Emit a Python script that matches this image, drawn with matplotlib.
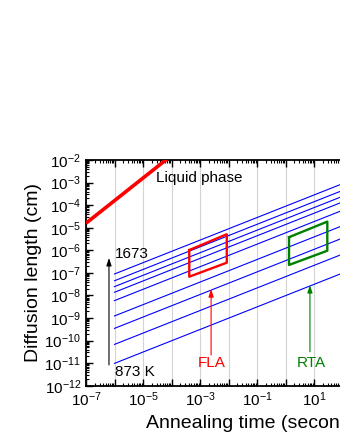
import numpy as np
import matplotlib
matplotlib.use("Agg")
import matplotlib.pyplot as plt
from matplotlib.ticker import LogLocator, FuncFormatter, NullFormatter

plt.rcParams['font.family'] = ['Liberation Sans', 'DejaVu Sans']
plt.rcParams['mathtext.fontset'] = 'custom'
plt.rcParams['mathtext.rm'] = 'Liberation Sans'
plt.rcParams['mathtext.it'] = 'Liberation Sans:italic'
plt.rcParams['mathtext.bf'] = 'Liberation Sans:bold'

# ---- data ----
# isotherm lines: log10 diffusion length at t=1e-6 s and t=1e2 s, 873 K ... 1673 K
iso_t = [1e-6, 1e2]
iso_log_start = [-11.01, -10.17, -9.46, -8.91, -8.23, -7.86, -7.61, -7.35, -7.05]
iso_log_end = [-7.01, -6.17, -5.46, -4.91, -4.23, -3.86, -3.61, -3.35, -3.05]

# liquid phase line
liq_t = [1e-7, 1e-3]
liq_log = [-4.80, -0.80]

# FLA window (parallelogram)
fla_t = [4.2e-4, 8.7e-3, 8.7e-3, 4.2e-4, 4.2e-4]
fla_log = [-5.99, -5.29, -6.55, -7.17, -5.99]

# RTA window
rta_t = [1.33, 29.3, 29.3, 1.33, 1.33]
rta_log = [-5.42, -4.73, -6.02, -6.65, -5.42]

x_range = [1e-7, 1e5]
y_range = [1e-12, 1e-2]

fig = plt.figure(figsize=(3.4, 4.4), dpi=100)
ax = fig.add_axes([86/340, 1-385.7/440, 342/340, 225.7/440])
ax.set_xscale('log')
ax.set_yscale('log')
ax.set_xlim(*x_range)
ax.set_ylim(*y_range)

# grid
for e in range(-7, 6):
    ax.axvline(10.0**e, color='#d4d4d4', lw=0.8, zorder=0)

for a, b in zip(iso_log_start, iso_log_end):
    ax.plot(iso_t, [10**a, 10**b], color='#0000ff', lw=0.8, zorder=2)

ax.plot(liq_t, [10**v for v in liq_log], color='#ff0000', lw=2.6, zorder=3,
        solid_capstyle='butt')
ax.plot(fla_t, [10**v for v in fla_log], color='#ff0000', lw=1.7, zorder=3)
ax.plot(rta_t, [10**v for v in rta_log], color='#008000', lw=1.7, zorder=3)

# arrows
def arrow(x, y0, y1, color):
    ax.annotate('', xy=(x, 10**y1), xytext=(x, 10**y0),
                arrowprops=dict(arrowstyle='-|>,head_length=0.45,head_width=0.15',
                                color=color, lw=0.8, shrinkA=0, shrinkB=0))

arrow(6.4e-7, -11.08, -6.34, 'black')
arrow(2.45e-3, -10.64, -7.72, '#ff0000')
arrow(7.2, -10.5, -7.54, '#008000')

fs = 11
ax.text(1.05e-6, 10**-6.16, '1673', fontsize=fs, ha='left', va='center')
ax.text(1.05e-6, 10**-11.39, '873 K', fontsize=fs, ha='left', va='center')
ax.text(10**-4.54, 10**-2.80, 'Liquid phase', fontsize=fs, ha='left', va='center')
ax.text(10**-2.58, 10**-11.0, 'FLA', fontsize=fs, ha='center', va='center', color='#ff0000')
ax.text(10**0.895, 10**-11.0, 'RTA', fontsize=fs, ha='center', va='center', color='#008000')

# ticks
ax.xaxis.set_major_locator(LogLocator(base=10, numticks=30))
ax.xaxis.set_minor_locator(LogLocator(base=10, subs=np.arange(2, 10), numticks=30))
ax.yaxis.set_major_locator(LogLocator(base=10, numticks=30))
ax.yaxis.set_minor_locator(LogLocator(base=10, subs=np.arange(2, 10), numticks=30))

def xfmt(v, pos):
    e = int(round(np.log10(v)))
    if e % 2 == 0:
        return ''
    return r'$10^{%d}$' % e

def yfmt(v, pos):
    e = int(round(np.log10(v)))
    return r'$10^{%d}$' % e

ax.xaxis.set_major_formatter(FuncFormatter(xfmt))
ax.yaxis.set_major_formatter(FuncFormatter(yfmt))
ax.xaxis.set_minor_formatter(NullFormatter())
ax.yaxis.set_minor_formatter(NullFormatter())

ax.tick_params(which='both', direction='in', top=True, right=True, labelsize=fs)
ax.tick_params(which='major', length=5, width=1.0)
ax.tick_params(which='minor', length=2.5, width=0.8)
for s in ax.spines.values():
    s.set_linewidth(1.3)

ax.set_xlabel('Annealing time (seconds)', fontsize=14, labelpad=4)
ax.set_ylabel('Diffusion length (cm)', fontsize=14, labelpad=2)

fig.savefig('out.png', dpi=100)
